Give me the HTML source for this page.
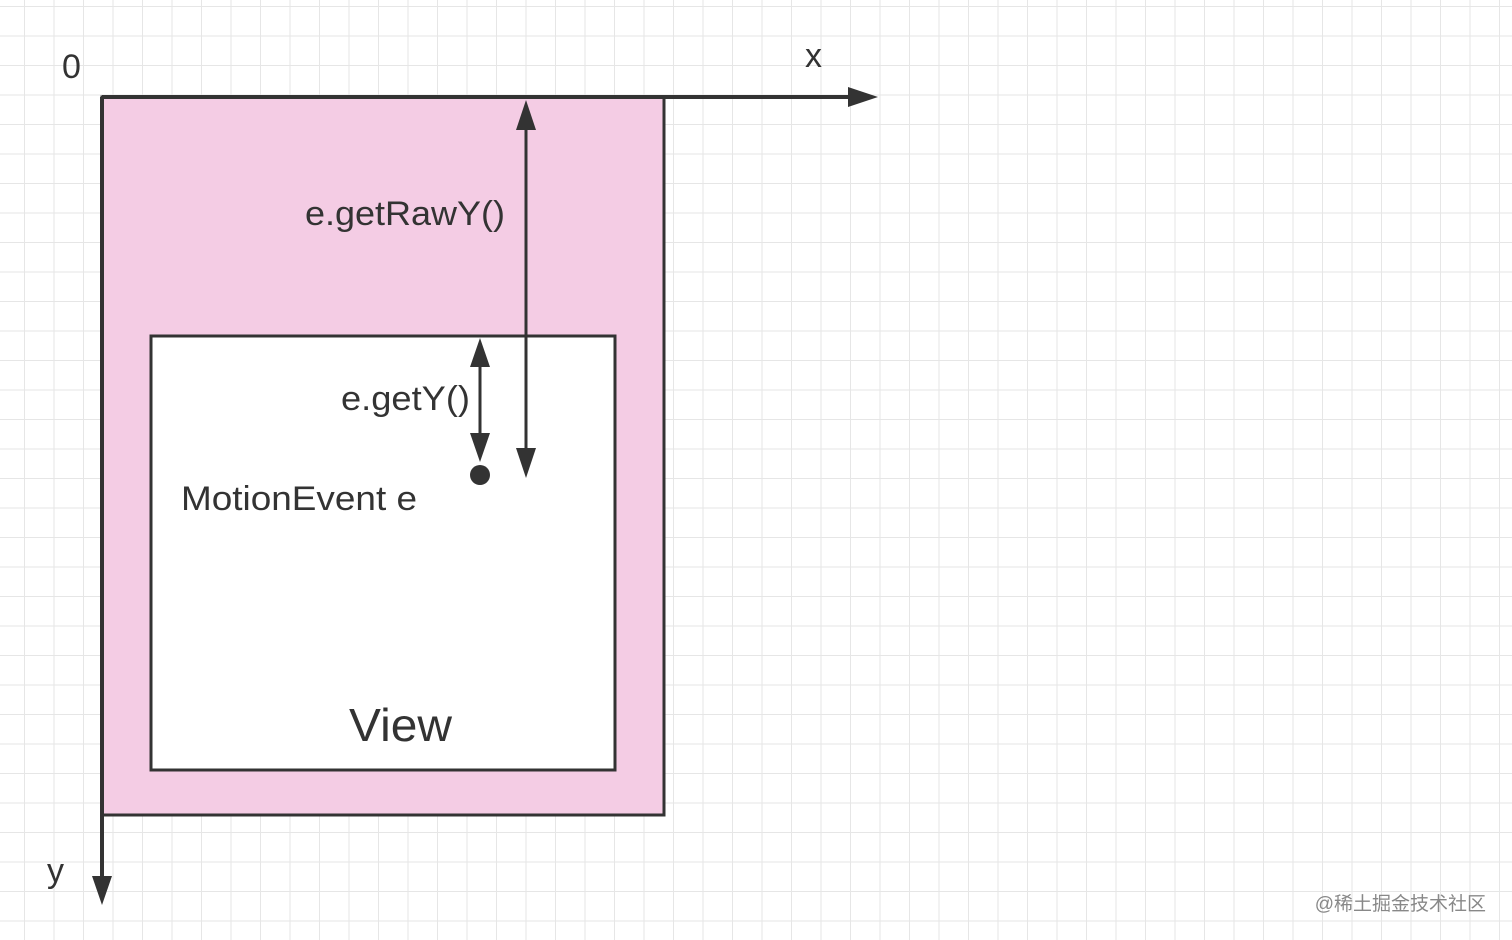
<!DOCTYPE html>
<html><head><meta charset="utf-8"><style>
html,body{margin:0;padding:0;background:#fff;}
svg{display:block;}
text{font-family:"Liberation Sans","Noto Sans CJK SC",sans-serif;fill:#333;}
</style></head><body>
<svg width="1512" height="940" viewBox="0 0 1512 940" xmlns="http://www.w3.org/2000/svg">
<defs>
<pattern id="g" x="-4.5" y="-22.5" width="29.5" height="29.5" patternUnits="userSpaceOnUse">
<path d="M29.5 0V29.5M0 29.5H29.5" stroke="#e6e6e6" stroke-width="2" fill="none"/>
</pattern>
</defs>
<rect width="1512" height="940" fill="url(#g)"/>
<rect x="102" y="97" width="562" height="718" fill="#f4cce4" stroke="#333" stroke-width="3"/>
<rect x="151" y="336" width="464" height="434" fill="#fff" stroke="#333" stroke-width="3"/>
<line x1="102" y1="97" x2="850" y2="97" stroke="#333" stroke-width="4"/>
<path d="M848 87L878 97L848 107Z" fill="#333"/>
<line x1="102" y1="97" x2="102" y2="878" stroke="#333" stroke-width="4"/>
<path d="M92 876L102 905L112 876Z" fill="#333"/>
<line x1="526" y1="125" x2="526" y2="452" stroke="#333" stroke-width="3"/>
<path d="M516 130L526 100L536 130Z" fill="#333"/>
<path d="M516 448L526 478L536 448Z" fill="#333"/>
<line x1="480" y1="362" x2="480" y2="438" stroke="#333" stroke-width="3"/>
<path d="M470 367L480 338L490 367Z" fill="#333"/>
<path d="M470 433L480 462L490 433Z" fill="#333"/>
<circle cx="480" cy="475" r="10" fill="#333"/>
<text x="62" y="78" font-size="34">0</text>
<text x="805" y="67" font-size="34">x</text>
<text x="47" y="882" font-size="34">y</text>
<text x="305" y="225" font-size="34" textLength="200" lengthAdjust="spacingAndGlyphs">e.getRawY()</text>
<text x="341" y="410" font-size="34" textLength="129" lengthAdjust="spacingAndGlyphs">e.getY()</text>
<text x="181" y="510" font-size="34" textLength="236" lengthAdjust="spacingAndGlyphs">MotionEvent e</text>
<text x="349" y="741" font-size="46" textLength="103" lengthAdjust="spacingAndGlyphs">View</text>
<text x="1486" y="910" font-size="19" text-anchor="end" style="fill:#888">@稀土掘金技术社区</text>
</svg>
</body></html>
